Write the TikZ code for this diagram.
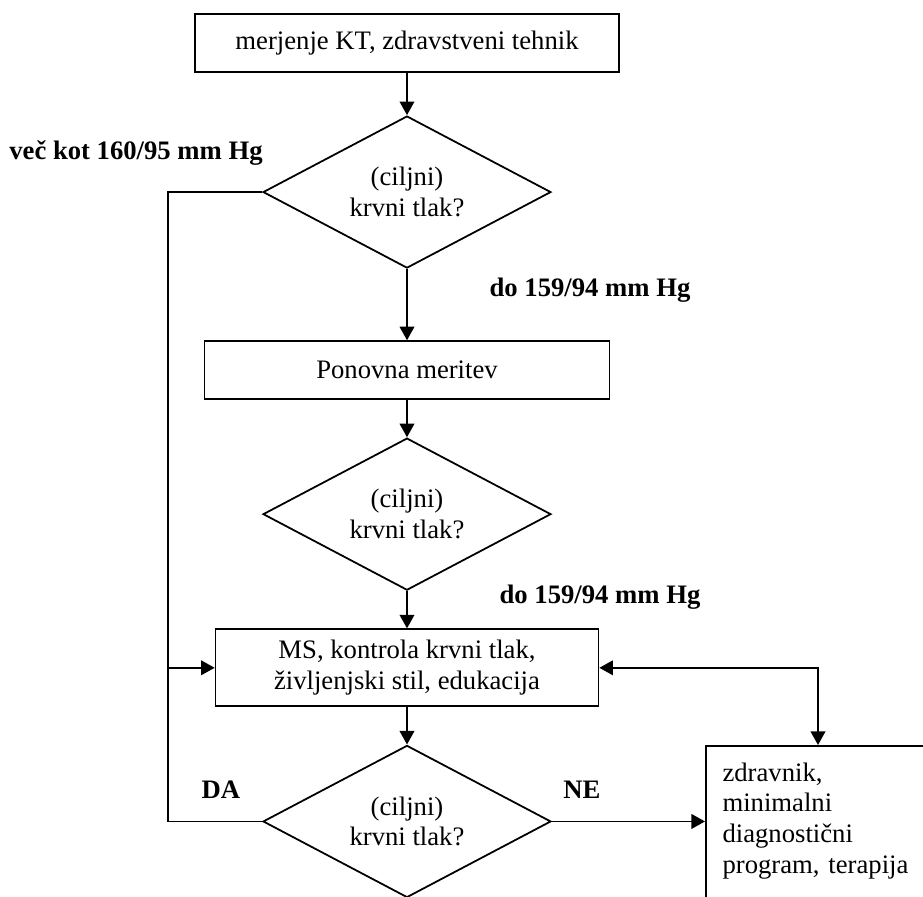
\documentclass[tikz,border=0pt]{standalone}
\usepackage{fontspec}
\setmainfont{Liberation Serif}
\usetikzlibrary{shapes.geometric,positioning,arrows.meta}
\begin{document}
\begin{tikzpicture}[x=0.48pt,y=-0.48pt,line width=0.85pt,
    font=\fontsize{12.8pt}{14.8pt}\selectfont,
    box/.style={rectangle,draw,align=center,minimum height=27.8pt},
    cond/.style={diamond,draw,align=center,aspect=1.9,inner sep=0pt,minimum width=138.2pt,minimum height=73pt},
    lab/.style={font=\fontsize{12.8pt}{14.8pt}\selectfont\bfseries},
    arr/.style={-{Triangle[length=6.5pt,width=7pt]}},
    arrs/.style={{Triangle[length=6.5pt,width=7pt]}-{Triangle[length=6.5pt,width=7pt]}}]
    \useasboundingbox (0,0) rectangle (923,896);
    \node[box,minimum width=203.5pt] (1) at (407,43) {merjenje KT, zdravstveni tehnik};
    \node[cond,below=20.3pt of 1] (2) {(ciljni)\\krvni tlak?};
    \node[box,minimum width=194.4pt,below=34.2pt of 2] (3) {Ponovna meritev};
    \node[cond,below=17.9pt of 3] (4) {(ciljni)\\krvni tlak?};
    \node[box,minimum width=183.8pt,minimum height=37pt,below=17.9pt of 4] (5) {MS, kontrola krvni tlak,\\življenjski stil, edukacija};
    \node[cond,below=17.9pt of 5] (6) {(ciljni)\\krvni tlak?};
    \node[draw,anchor=north west,align=left,text width=100pt,inner sep=8pt,text depth=56pt] (7) at (705,745) {zdravnik,\\minimalni\\diagnostični\\program, terapija};
    % labels
    \node[lab] (l1) at (136,153) {več kot 160/95 mm Hg};
    \node[lab] (l2) at (590,290) {do 159/94 mm Hg};
    \node[lab] (l3) at (600,597) {do 159/94 mm Hg};
    \node[lab] (l4) at (221,790) {DA};
    \node[lab] (l5) at (582,790) {NE};
    \coordinate (lt) at (168,0);
    \coordinate (cr) at (818,0);
    \path[draw,arr] (1) -- (2);
    \path[draw,arr] (2) -- (3);
    \path[draw,arr] (3) -- (4);
    \path[draw,arr] (4) -- (5);
    \path[draw,arr] (5) -- (6);
    \path[draw] (2.west) -- (2.west -| lt) |- (6.west);
    \path[draw,arr] (5.west -| lt) -- (5.west);
    \path[draw,arr] (6.east) -- (6.east -| 7.west);
    \path[draw,arrs] (5.east) -- (5.east -| cr) -- (cr |- 7.north);
\end{tikzpicture}
\end{document}
